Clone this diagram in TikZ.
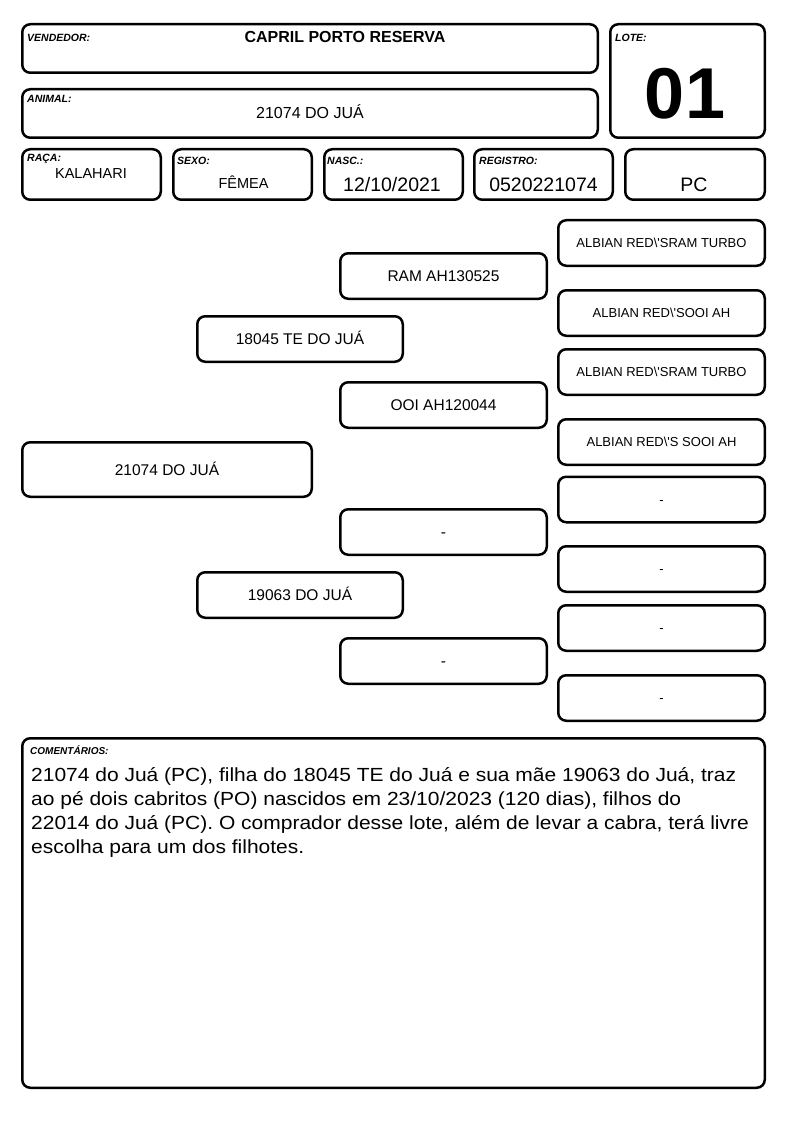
\documentclass[tikz,border=0pt]{standalone}
\usepackage{fontspec}
\setmainfont{Liberation Sans}
\newcommand{\setfs}[1]{\fontsize{#1}{#1}\selectfont}
\begin{document}
\begin{tikzpicture}[x=1pt,y=-1pt,
  box/.style={draw, line width=2.5pt, rounded corners=8pt, inner sep=0pt, text depth=0pt},
  fld/.style={box, minimum width=138.5pt, minimum height=50.5pt},
  ggbox/.style={box, minimum width=206.5pt, minimum height=45.5pt, font=\setfs{13}, text height=9.3pt},
  gbox/.style={box, minimum width=206.5pt, minimum height=45.5pt, font=\setfs{15.5}, text height=11.1pt},
  pbox/.style={box, minimum width=205.5pt, minimum height=45.5pt, font=\setfs{15.5}, text height=11.1pt},
  lab/.style={anchor=base west, inner sep=0pt, font=\setfs{10.5}\bfseries\itshape},
  val/.style={anchor=base, inner sep=0pt}]
\useasboundingbox (0,0) rectangle (794,1123);
\fill[white] (0,0) rectangle (794,1123);

% header boxes
\node[box, minimum width=575.5pt, minimum height=48.5pt] (vend) at (310,48.5) {};
\node[box, minimum width=575.5pt, minimum height=48.5pt] (anim) at (310,113.5) {};
\node[box, minimum width=154.5pt, minimum height=113.5pt] (lote) at (687.5,81) {};
\node[fld] (raca) at (91.5,174.5) {};
\node[fld] (sexo) at (242.5,174.5) {};
\node[fld] (nasc) at (393.5,174.5) {};
\node[fld] (reg) at (543.5,174.5) {};
\node[fld, minimum width=139.5pt] (pc) at (695,174.5) {};

\node[lab] (vendl) at (27,41.5) {VENDEDOR:};
\node[val, font=\setfs{16}\bfseries] (vendv) at (345,42.7) {CAPRIL PORTO RESERVA};
\node[lab] (animl) at (27,103) {ANIMAL:};
\node[val, font=\setfs{16}] (animv) at (310,119) {21074 DO JUÁ};
\node[lab] (lotel) at (615,41.5) {LOTE:};
\node[val, font=\setfs{72}\bfseries] (lotev) at (685,118.5) {01};
\node[lab] (racal) at (27,162) {RAÇA:};
\node[val, font=\setfs{14.5}] (racav) at (91,178.3) {KALAHARI};
\node[lab] (sexol) at (177,165) {SEXO:};
\node[val, font=\setfs{14.5}] (sexov) at (243.5,189) {FÊMEA};
\node[lab] (nascl) at (327,165) {NASC.:};
\node[val, font=\setfs{19.5}] (nascv) at (392,191.7) {12/10/2021};
\node[lab] (regl) at (479,165) {REGISTRO:};
\node[val, font=\setfs{19.5}] (regv) at (543.5,191.7) {0520221074};
\node[val, font=\setfs{19.5}] (pcv) at (694,191.7) {PC};

% pedigree: great-grandparents
\node[ggbox] (gg1) at (661.5,243) {ALBIAN RED\textbackslash\textquotesingle SRAM TURBO};
\node[ggbox] (gg2) at (661.5,313) {ALBIAN RED\textbackslash\textquotesingle SOOI AH};
\node[ggbox] (gg3) at (661.5,372) {ALBIAN RED\textbackslash\textquotesingle SRAM TURBO};
\node[ggbox] (gg4) at (661.5,442) {ALBIAN RED\textbackslash\textquotesingle S SOOI AH};
\node[ggbox] (gg5) at (661.5,499.5) {-};
\node[ggbox] (gg6) at (661.5,569) {-};
\node[ggbox] (gg7) at (661.5,628) {-};
\node[ggbox] (gg8) at (661.5,698) {-};
% grandparents
\node[gbox] (g1) at (443.5,276) {RAM AH130525};
\node[gbox] (g2) at (443.5,405) {OOI AH120044};
\node[gbox] (g3) at (443.5,532) {-};
\node[gbox] (g4) at (443.5,661) {-};
% parents
\node[pbox] (p1) at (300,339) {18045 TE DO JUÁ};
\node[pbox] (p2) at (300,595) {19063 DO JUÁ};
% animal
\node[box, minimum width=289.5pt, minimum height=54.5pt, font=\setfs{15.5}, text height=11.1pt] (a) at (167,469.5) {21074 DO JUÁ};

% comments
\node[box, minimum width=742.5pt, minimum height=349.5pt] (com) at (393.5,913) {};
\node[lab, font=\setfs{10}\bfseries\itshape] (coml) at (30,754) {COMENTÁRIOS:};
\node[anchor=base west, inner sep=0pt, font=\fontsize{19}{24}\selectfont] (comt) at (31,781)
{\scalebox{1.105}[1]{\begin{tabular}[t]{@{}l@{}}21074 do Juá (PC), filha do 18045 TE do Juá e sua mãe 19063 do Juá, traz\\
ao pé dois cabritos (PO) nascidos em 23/10/2023 (120 dias), filhos do\\
22014 do Juá (PC). O comprador desse lote, além de levar a cabra, terá livre\\
escolha para um dos filhotes.\end{tabular}}};
\end{tikzpicture}
\end{document}
